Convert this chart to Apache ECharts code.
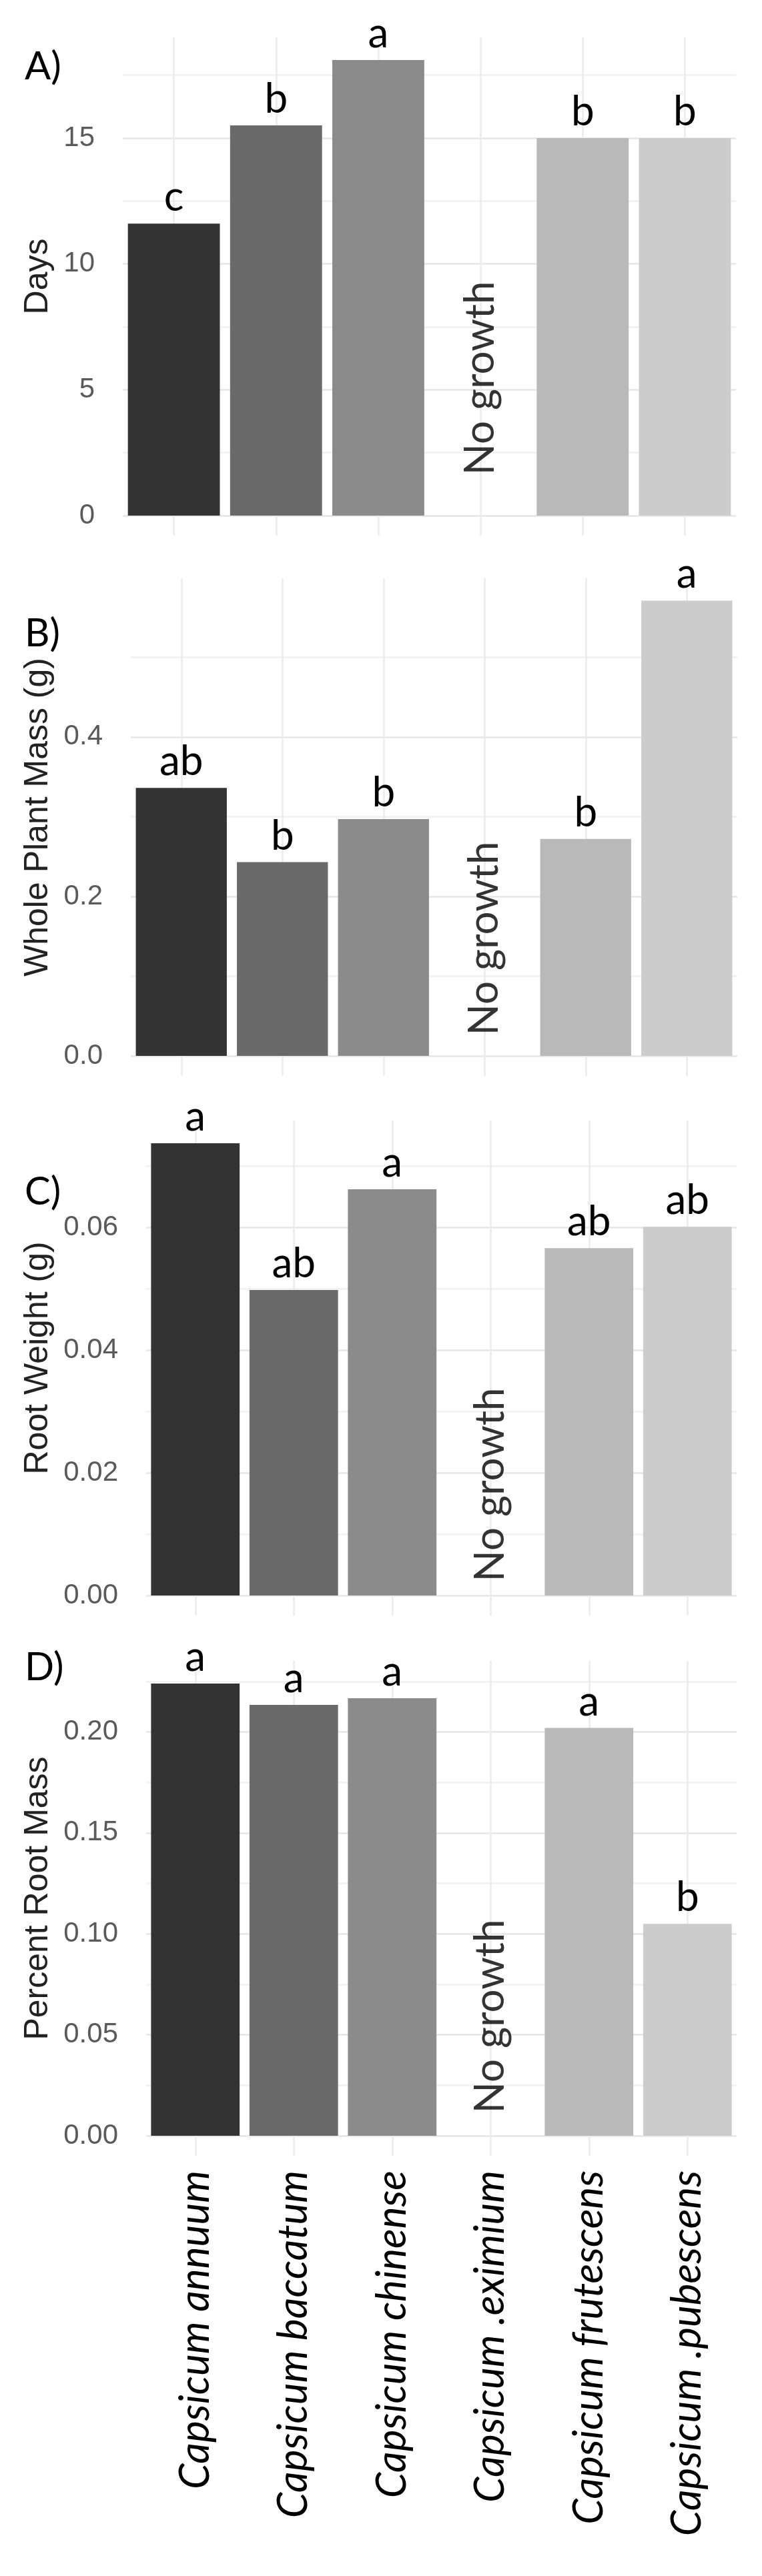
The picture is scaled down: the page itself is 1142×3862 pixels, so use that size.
<!DOCTYPE html>
<html>
<head>
<meta charset="utf-8">
<script src="https://cdn.jsdelivr.net/npm/echarts@6/dist/echarts.min.js"></script>
<style>
  html, body { margin: 0; padding: 0; background: #fff; }
  #chart { width: 1142px; height: 3862px; }
</style>
</head>
<body>
<div id="chart"></div>
<script>
// categories (species) and bar fills (grey scale, one per species)
const species = ['Capsicum annuum', 'Capsicum baccatum', 'Capsicum chinense', 'Capsicum .eximium', 'Capsicum frutescens', 'Capsicum .pubescens'];
const barColors = ['#333333', '#6A6A6A', '#8B8B8B', '#A4A4A4', '#B9B9B9', '#CCCCCC'];

// A) days
const days = [11.6, 15.5, 18.1, null, 15.0, 15.0];
const daysLetters = ['c', 'b', 'a', '', 'b', 'b'];
// B) whole plant mass (g)
const plantMass = [0.336, 0.243, 0.297, null, 0.272, 0.571];
const plantMassLetters = ['ab', 'b', 'b', '', 'b', 'a'];
// C) root weight (g)
const rootWeight = [0.0737, 0.0498, 0.0662, null, 0.0566, 0.0601];
const rootWeightLetters = ['a', 'ab', 'a', '', 'ab', 'ab'];
// D) percent root mass
const rootPercent = [0.224, 0.2134, 0.2167, null, 0.202, 0.105];
const rootPercentLetters = ['a', 'a', 'a', '', 'a', 'b'];

const axisFont = '"Liberation Sans", Arial, sans-serif';
const noteFont = 'Lato, Carlito, "Open Sans", sans-serif';
const gridColor = '#EBEBEB';

const panels = [
  { tag: 'A)', name: 'Days', values: days, letters: daysLetters,
    max: 19, step: 2.5, major: 5, digits: 0,
    top: 56, height: 717, left: 184, right: 39, tagTop: 70, ngGap: 60 },
  { tag: 'B)', name: 'Whole Plant Mass (g)', values: plantMass, letters: plantMassLetters,
    max: 0.599, step: 0.1, major: 0.2, digits: 1,
    top: 867, height: 716, left: 196, right: 37, tagTop: 920, ngGap: 30 },
  { tag: 'C)', name: 'Root Weight (g)', values: rootWeight, letters: rootWeightLetters,
    max: 0.0774, step: 0.01, major: 0.02, digits: 2,
    top: 1680, height: 712, left: 219, right: 38, tagTop: 1757, ngGap: 20 },
  { tag: 'D)', name: 'Percent Root Mass', values: rootPercent, letters: rootPercentLetters,
    max: 0.2352, step: 0.025, major: 0.05, digits: 2,
    top: 2490, height: 712, left: 219, right: 38, tagTop: 2470, ngGap: 33 }
];

function tickFormatter(p) {
  return function (v) {
    const k = v / p.major;
    return Math.abs(k - Math.round(k)) < 1e-6 ? v.toFixed(p.digits) : '';
  };
}

const option = {
  backgroundColor: '#fff',
  animation: false,
  title: panels.map(p => ({
    text: p.tag, left: 37, top: p.tagTop, padding: 0,
    textStyle: { fontFamily: noteFont, fontSize: 58, fontWeight: 'normal', color: '#000', lineHeight: 60 }
  })),
  grid: panels.map(p => ({ left: p.left, right: p.right, top: p.top, height: p.height, containLabel: false, outerBoundsMode: 'none' })),
  xAxis: panels.map((p, i) => ({
    type: 'category', gridIndex: i, data: species,
    axisLine: { show: false },
    axisTick: { show: true, alignWithLabel: true, length: 30, lineStyle: { color: gridColor, width: 2.5 } },
    splitLine: { show: true, alignWithLabel: true, lineStyle: { color: gridColor, width: 2.5 } },
    axisLabel: {
      show: i === panels.length - 1, rotate: 90, margin: 52, interval: 0,
      fontFamily: noteFont, fontStyle: 'italic', fontSize: 62, color: '#000'
    }
  })),
  yAxis: panels.map((p, i) => ({
    type: 'value', gridIndex: i, min: 0, max: p.max, interval: p.step,
    name: p.name, nameLocation: 'middle', nameGap: p.left - 84,
    nameTextStyle: { fontFamily: axisFont, fontSize: 50, color: '#222', lineHeight: 54 },
    axisLine: { show: false }, axisTick: { show: false },
    axisLabel: { formatter: tickFormatter(p), margin: 42, fontFamily: axisFont, fontSize: 42, color: '#5A5A5A', showMaxLabel: false },
    splitLine: { show: true, showMaxLine: false, lineStyle: { color: ['#E6E6E6', '#F1F1F1'], width: 2.5 } }
  })),
  series: panels.flatMap((p, i) => [
    {
      type: 'bar', xAxisIndex: i, yAxisIndex: i, barCategoryGap: '10%',
      data: p.values.map((v, j) => v == null ? '-' : { value: v, itemStyle: { color: barColors[j] } }),
      label: {
        show: true, position: 'top', distance: 8,
        formatter: d => p.letters[d.dataIndex],
        fontFamily: noteFont, fontSize: 62, color: '#000'
      }
    },
    {
      type: 'scatter', xAxisIndex: i, yAxisIndex: i, symbolSize: 1,
      itemStyle: { color: 'rgba(0,0,0,0)' },
      data: p.values.map(v => v == null ? 0 : '-'),
      label: {
        show: true, position: 'top', distance: p.ngGap, rotate: 90,
        align: 'left', verticalAlign: 'middle',
        formatter: 'No growth', fontFamily: noteFont, fontSize: 62, color: '#000'
      }
    }
  ])
};

const chart = echarts.init(document.getElementById('chart'), null, { renderer: 'canvas' });
chart.setOption(option);
</script>
</body>
</html>
